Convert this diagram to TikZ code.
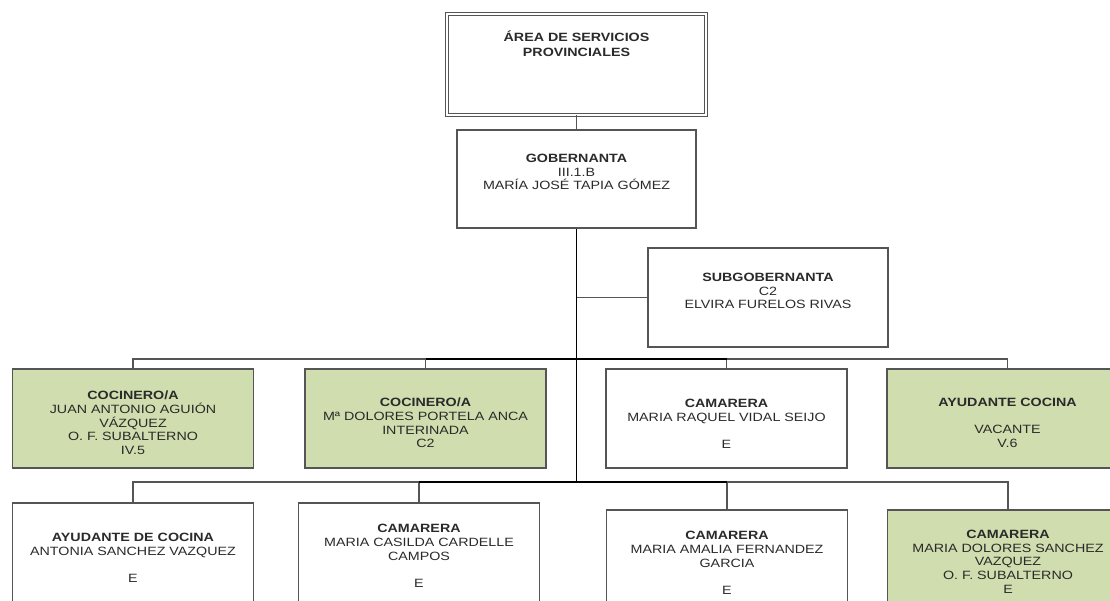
\documentclass[tikz,border=0pt]{standalone}
\usepackage{fontspec}
\setmainfont{Liberation Sans}[FakeStretch=1.19]
\usetikzlibrary{positioning}
\definecolor{postgreen}{HTML}{D0DEAF}
\definecolor{linegray}{HTML}{555555}
\definecolor{txtgray}{HTML}{2A2A2A}

\begin{document}
\begin{tikzpicture}[x=1pt, y=-1pt,
    post/.style={draw=linegray, line width=1.1pt, minimum width=241pt, minimum height=99pt, inner sep=0pt},
    vacpost/.style={post, fill=postgreen},
    headpost/.style={draw=linegray, line width=0.9pt, double=white, double distance=2.2pt,
        minimum width=259pt, minimum height=101pt, inner sep=0pt},
    txt/.style={align=center, font=\fontsize{12}{13.7}\selectfont, text=txtgray},
    bus/.style={draw=linegray, line width=1.1pt},
    trunk/.style={draw=black, line width=1.6pt},
]
\useasboundingbox (0,0) rectangle (1110,600);
\clip (0,0) rectangle (1110,600);

% Posts
\node[headpost] (area) at (576.5,64.5) {};
\node[post, minimum width=239pt, minimum height=98pt] (gob) at (576.5,179) {};
\node[post, minimum width=240pt] (sub) at (768,297.5) {};

\node[vacpost] (r1a) at (133,418.5) {};
\node[vacpost] (r1b) at (425.5,418.5) {};
\node[post] (r1c) at (726.5,418.5) {};
\node[vacpost] (r1d) at (1007.5,418.5) {};

\node[post] (r2a) at (133,552.5) {};
\node[post] (r2b) at (419,552.5) {};
\node[post] (r2c) at (727,559.5) {};
\node[vacpost] (r2d) at (1008,559.5) {};

% Texts
\node[txt, font=\fontsize{12}{15}\selectfont\bfseries] (areat) at (576.5,44) {ÁREA DE SERVICIOS\\PROVINCIALES};
\node[txt] (gobt) at (576.5,172) {\textbf{GOBERNANTA}\\III.1.B\\MARÍA JOSÉ TAPIA GÓMEZ};
\node[txt] (subt) at (768,291) {\textbf{SUBGOBERNANTA}\\C2\\ELVIRA FURELOS RIVAS};

\node[txt] (r1at) at (133,423) {\textbf{COCINERO/A}\\JUAN ANTONIO AGUIÓN\\VÁZQUEZ\\O. F. SUBALTERNO\\IV.5};
\node[txt] (r1bt) at (425.5,423) {\textbf{COCINERO/A}\\Mª DOLORES PORTELA ANCA\\INTERINADA\\C2};
\node[txt] (r1ct) at (726.5,424) {\textbf{CAMARERA}\\MARIA RAQUEL VIDAL SEIJO\\[13.7pt]E};
\node[txt] (r1dt) at (1007.5,423) {\textbf{AYUDANTE COCINA}\\[13.7pt]VACANTE\\V.6};

\node[txt] (r2at) at (133,558) {\textbf{AYUDANTE DE COCINA}\\ANTONIA SANCHEZ VAZQUEZ\\[13.7pt]E};
\node[txt] (r2bt) at (419,556) {\textbf{CAMARERA}\\MARIA CASILDA CARDELLE\\CAMPOS\\[13.7pt]E};
\node[txt] (r2ct) at (727,563) {\textbf{CAMARERA}\\MARIA AMALIA FERNANDEZ\\GARCIA\\[13.7pt]E};
\node[txt] (r2dt) at (1008,561.5) {\textbf{CAMARERA}\\MARIA DOLORES SANCHEZ\\VAZQUEZ\\O. F. SUBALTERNO\\E};

% Connectors
\coordinate (bus1) at (576.5,359);
\coordinate (bus2) at (576.5,482);
\draw[bus] (area.south) -- (gob.north);
\draw[bus] (sub.west) -- (sub.west -| gob.south);
\draw[bus] (r1a.north) |- (bus1) -| (r1d.north);
\draw[bus] (r1b.north) -- (r1b.north |- bus1);
\draw[bus] (r1c.north) -- (r1c.north |- bus1);
\draw[bus] (r2a.north) |- (bus2) -| (r2d.north);
\draw[bus] (r2b.north) -- (r2b.north |- bus2);
\draw[bus] (r2c.north) -- (r2c.north |- bus2);
\draw[trunk] (r1b.north |- bus1) -- (r1c.north |- bus1);
\draw[trunk] (r2b.north |- bus2) -- (r2c.north |- bus2);
\draw[trunk] (gob.south) -- (bus2);

\end{tikzpicture}
\end{document}
